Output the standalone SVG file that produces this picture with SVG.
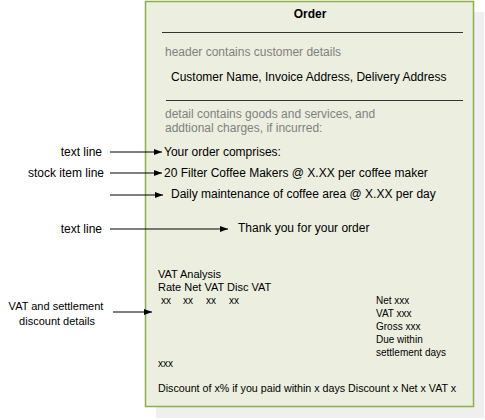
<svg xmlns="http://www.w3.org/2000/svg" width="485" height="420" viewBox="0 0 485 420">
<style>
text{font-family:"Liberation Sans",Arial,sans-serif;font-size:12px;fill:#000}
.s{font-size:11px}
.t{font-size:10px}
.g{fill:#7f7f7f}
.c{stroke:#000;stroke-width:1;fill:none;marker-end:url(#ah)}
.r{text-anchor:end}
.m{text-anchor:middle}
</style>
<defs>
<marker id="ah" viewBox="0 0 8 6" refX="8" refY="3" markerWidth="8" markerHeight="6" markerUnits="userSpaceOnUse" orient="auto">
<path d="M0,0 L8,3 L0,6 Z" fill="#000"/>
</marker>
</defs>
<rect x="0" y="0" width="485" height="420" fill="#fff"/>
<g id="order">
<rect x="156" y="12" width="328" height="406" fill="#efefef"/>
<rect x="145.5" y="1.5" width="328" height="405" fill="#ecefe0" stroke="#8db04a" stroke-width="1.5"/>
<text x="310" y="18" class="m" style="font-weight:bold">Order</text>
<line x1="162" y1="32.5" x2="463" y2="32.5" stroke="#333" stroke-width="1"/>
<text x="165" y="56" class="g">header contains customer details</text>
<text x="171" y="81">Customer Name, Invoice Address, Delivery Address</text>
<line x1="166" y1="100.5" x2="463" y2="100.5" stroke="#333" stroke-width="1"/>
<text x="165" y="118" class="g">detail contains goods and services, and</text>
<text x="165" y="132" class="g">addtional charges, if incurred:</text>
<text x="164" y="156">Your order comprises:</text>
<text x="164" y="177">20 Filter Coffee Makers @ X.XX per coffee maker</text>
<text x="171" y="198">Daily maintenance of coffee area @ X.XX per day</text>
<text x="238" y="232">Thank you for your order</text>
<text x="158" y="278" class="s">VAT Analysis</text>
<text x="158" y="291" class="s">Rate Net VAT Disc VAT</text>
<text x="161" y="304" class="t">xx</text>
<text x="183" y="304" class="t">xx</text>
<text x="206" y="304" class="t">xx</text>
<text x="229" y="304" class="t">xx</text>
<text x="376" y="304" class="t">Net xxx</text>
<text x="376" y="317" class="t">VAT xxx</text>
<text x="376" y="330" class="t">Gross xxx</text>
<text x="376" y="343" class="t">Due within</text>
<text x="376" y="356" class="t">settlement days</text>
<text x="158" y="367" class="t">xxx</text>
<text x="158" y="392" style="font-size:10.7px">Discount of x% if you paid within x days Discount x Net x VAT x</text>
</g>
<g id="label-text1"><text x="102" y="156" class="r">text line</text></g>
<g id="label-stock"><text x="104" y="177" class="r">stock item line</text></g>
<g id="label-text2"><text x="102" y="233" class="r">text line</text></g>
<g id="label-vat"><text x="56" y="310" class="m s">VAT and settlement</text><text x="57" y="325" class="m s">discount details</text></g>
<g id="connectors">
<line x1="110" y1="152" x2="162" y2="152" class="c"/>
<line x1="110" y1="173" x2="162" y2="173" class="c"/>
<line x1="110" y1="195" x2="163" y2="195" class="c"/>
<line x1="110" y1="229" x2="228" y2="229" class="c"/>
<line x1="113" y1="312" x2="152" y2="312" class="c"/>
</g>
</svg>
